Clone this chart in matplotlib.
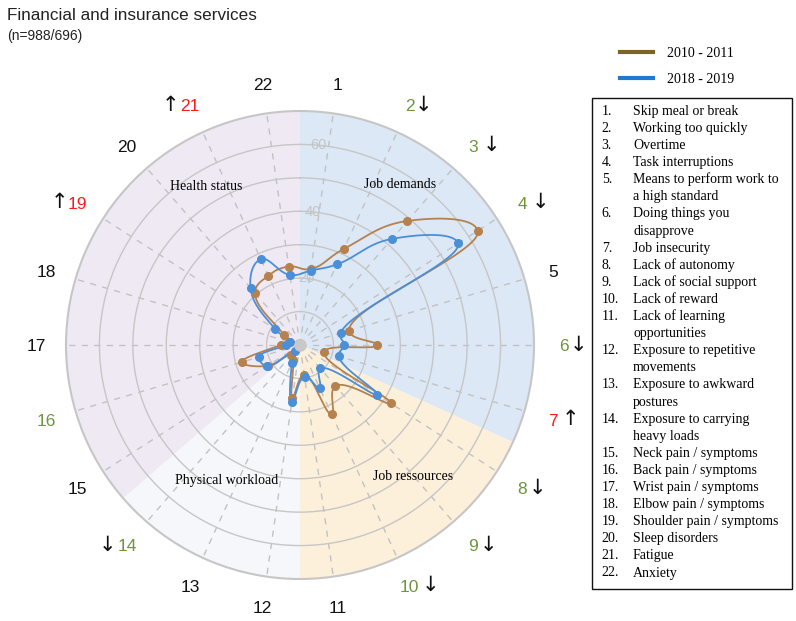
import numpy as np
import matplotlib
matplotlib.use("Agg")
import matplotlib.pyplot as plt
from matplotlib.transforms import offset_copy
from matplotlib.lines import Line2D
from matplotlib.patches import Rectangle

# ---------------- data ----------------
categories = [str(i) for i in range(1, 23)]
val_2010 = [23.0, 31.6, 49.1, 63.2, 15.3, 23.0, 7.5, 32.3, 16.2, 22.8, 9.0,
            16.0, 5.0, 4.0, 11.5, 18.2, 5.8, 3.5, 5.8, 20.5, 22.8, 23.7]
val_2018 = [22.5, 26.5, 42.0, 56.2, 12.7, 13.2, 12.1, 27.4, 9.3, 14.1, 9.6,
            17.3, 5.8, 2.5, 11.7, 12.7, 4.2, 3.2, 8.8, 22.6, 28.2, 21.2]
series_names = ["2010 - 2011", "2018 - 2019"]

# label colouring / trend arrows
label_color = {2: "g", 3: "g", 4: "g", 6: "g", 7: "r", 8: "g", 9: "g", 10: "g",
               14: "g", 16: "g", 19: "r", 21: "r"}
label_arrow = {2: "↓", 3: "↓", 4: "↓", 6: "↓", 7: "↑", 8: "↓", 9: "↓", 10: "↓",
               14: "↓", 19: "↑", 21: "↑"}
arrow_dx = {2: 14, 3: 19, 4: 18, 6: 14, 7: 17, 8: 15, 9: 16, 10: 21,
            14: -20, 19: -18, 21: -20}

# sectors: (name, first category, last category)
sectors = [("Job demands", 1, 7), ("Job ressources", 8, 11),
           ("Physical workload", 12, 14), ("Health status", 15, 22)]
sector_colors = ["#dce8f5", "#fdf0da", "#f6f7fa", "#efe9f4"]
sector_label_pos = [(32, 56.5), (139.4, 52), (208.5, 46), (-30.6, 55)]

items = ["Skip meal or break", "Working too quickly", "Overtime",
         "Task interruptions", "Means to perform work to\na high standard",
         "Doing things you\ndisapprove", "Job insecurity", "Lack of autonomy",
         "Lack of social support", "Lack of reward",
         "Lack of learning\nopportunities", "Exposure to repetitive\nmovements",
         "Exposure to awkward\npostures", "Exposure to carrying\nheavy loads",
         "Neck pain / symptoms", "Back pain / symptoms", "Wrist pain / symptoms",
         "Elbow pain / symptoms", "Shoulder pain / symptoms", "Sleep disorders",
         "Fatigue", "Anxiety"]

radial_ticks = [20, 40, 60]
rmax = 70

# ---------------- helpers ----------------
def closed_spline(xs, ys, smoothness=1.0, n=40):
    pts = np.column_stack([xs, ys])
    N = len(pts)
    tang = []
    for i in range(N):
        p0, p1, p2 = pts[i - 1], pts[i], pts[(i + 1) % N]
        d1 = p0 - p1
        d2 = p2 - p1
        d1a = (d1 @ d1) ** 0.25
        d2a = (d2 @ d2) ** 0.25
        num = (d2a ** 2 * d1 - d1a ** 2 * d2) * smoothness
        den1 = 3 * d2a * (d1a + d2a)
        den2 = 3 * d1a * (d1a + d2a)
        cin = p1 + (num / den1 if den1 else 0)
        cout = p1 - (num / den2 if den2 else 0)
        tang.append((cin, cout))
    t = np.linspace(0, 1, n)[:, None]
    out = []
    for i in range(N):
        a = pts[i]
        b = pts[(i + 1) % N]
        c1 = tang[i][1]
        c2 = tang[(i + 1) % N][0]
        seg = (1 - t) ** 3 * a + 3 * (1 - t) ** 2 * t * c1 + 3 * (1 - t) * t ** 2 * c2 + t ** 3 * b
        out.append(seg if i == 0 else seg[1:])
    return np.vstack(out)

# ---------------- figure ----------------
W, H = 796, 621
fig = plt.figure(figsize=(W / 100, H / 100), dpi=100)
cx, cy, R = 300, 345, 234
ax = fig.add_axes([(cx - R) / W, (H - cy - R) / H, 2 * R / W, 2 * R / H],
                  projection="polar")
ax.set_theta_zero_location("N")
ax.set_theta_direction(-1)
ax.set_ylim(0, rmax)
ax.set_facecolor("none")

n = len(categories)
step = 2 * np.pi / n
theta = (np.arange(n) + 0.5) * step

# sector backgrounds
for (name, a, b), col in zip(sectors, sector_colors):
    start = (a - 1) * step
    width = (b - a + 1) * step
    ax.bar(start + width / 2, rmax, width=width, bottom=0, color=col,
           edgecolor="none", zorder=0.1)

ax.set_xticks(theta)
ax.set_xticklabels([])
ax.set_yticks(range(10, 70, 10))
ax.set_yticklabels([])
ax.tick_params(length=0)
ax.set_axisbelow(True)
ax.xaxis.grid(True, color="#c2c2c2", linestyle=(0, (4.5, 4.5)), linewidth=1.0)
ax.yaxis.grid(True, color="#c6c6c6", linestyle="-", linewidth=1.0)
ax.spines["polar"].set_color("#c6c6c6")
ax.spines["polar"].set_linewidth(1.5)

# radial tick labels
for v in radial_ticks:
    ax.text(np.deg2rad(5.4), v, str(v), color="#c4c4c4", fontsize=10.5,
            family="Liberation Sans", ha="center", va="center", zorder=3)

# sector labels
for (name, a, b), (ang, rr) in zip(sectors, sector_label_pos):
    ax.text(np.deg2rad(ang), rr, name, family="Liberation Serif", fontsize=10,
            ha="center", va="center", zorder=3)

# series
line_cols = ["#b5814f", "#4a8fd8"]
for vals, col in zip([val_2010, val_2018], line_cols):
    vals = np.asarray(vals, float)
    x = vals * np.sin(theta)
    y = vals * np.cos(theta)
    sp = closed_spline(x, y, smoothness=1.3)
    th = np.unwrap(np.arctan2(sp[:, 0], sp[:, 1]))
    rr = np.hypot(sp[:, 0], sp[:, 1])
    ax.plot(th, rr, color=col, lw=1.3, zorder=4)
    ax.plot(theta, vals, "o", color=col, ms=5.5, zorder=5)

ax.plot([0], [0], "o", color="#c8c8c8", ms=8, zorder=6)

# category labels
cmap = {"g": "#6f9440", "r": "#ff1a1a", None: "#111111"}
for i, lab in enumerate(categories, start=1):
    tr = offset_copy(ax.transData, fig=fig, x=0, y=-6.3, units="dots")
    ax.text(theta[i - 1], 79, lab, color=cmap[label_color.get(i)], fontsize=12.5,
            family="Liberation Sans", ha="center", va="baseline",
            transform=tr, clip_on=False)
    if i in label_arrow:
        tr2 = offset_copy(ax.transData, fig=fig, x=arrow_dx[i], y=0, units="dots")
        ax.text(theta[i - 1], 79, label_arrow[i], color="#111111", fontsize=15,
                family="DejaVu Sans", ha="center", va="center",
                transform=tr2, clip_on=False)

# title
fig.text(7 / W, 1 - 20.5 / H, "Financial and insurance services",
         family="Liberation Sans", fontsize=12.3, va="baseline", color="#222222")
fig.text(7 / W, 1 - 40 / H, "(n=988/696)", family="Liberation Sans",
         fontsize=10, va="baseline", color="#222222")

# legend
handles = [Line2D([], [], color="#7d6427", lw=3),
           Line2D([], [], color="#1f78d1", lw=3)]
fig.legend(handles, series_names, loc="upper left",
           bbox_to_anchor=(620 / W, 1 - 47 / H), frameon=False,
           prop={"family": "Liberation Serif", "size": 10},
           handlelength=2.4, handletextpad=0.95, labelspacing=0.95,
           borderpad=0, borderaxespad=0)

# item list box
fig.add_artist(Rectangle((592 / W, (H - 589) / H), 200 / W, 491 / H,
                         transform=fig.transFigure, fill=False,
                         edgecolor="#111111", lw=1))
k = 0
for i, txt in enumerate(items, start=1):
    lines = txt.split("\n")
    for j, ln in enumerate(lines):
        yb = 1 - (110 + 17.1 * k + 4.8) / H
        if j == 0:
            fig.text(601.7 / W, yb, f"{i}.", family="Liberation Serif",
                     fontsize=10, va="baseline")
        fig.text(633 / W, yb, ln, family="Liberation Serif", fontsize=10,
                 va="baseline")
        k += 1

fig.savefig("out.png", dpi=100)
